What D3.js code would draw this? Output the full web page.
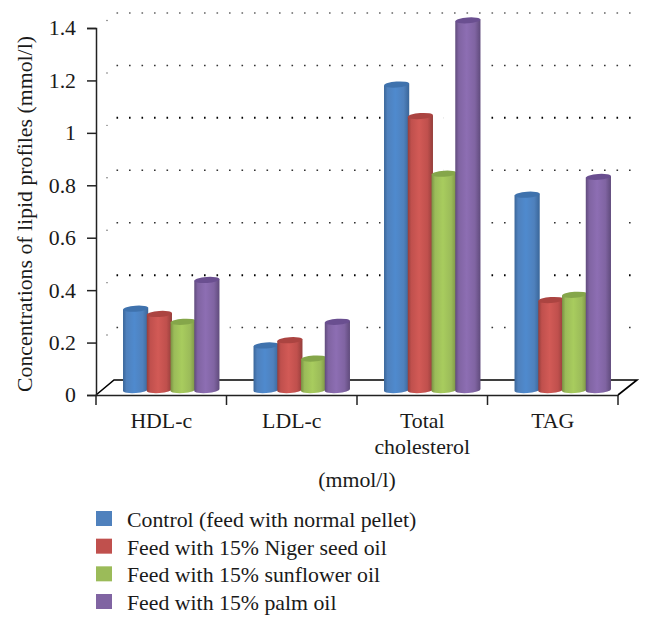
<!DOCTYPE html>
<html><head><meta charset="utf-8">
<script src="https://cdn.jsdelivr.net/npm/d3@7"></script>
<style>html,body{margin:0;padding:0;background:#fff}svg{display:block}text{font-family:"Liberation Serif",serif;fill:#1a1a1a}</style>
</head><body><div id="c"></div>
<script>
const categories = ["HDL-c","LDL-c","Total cholesterol","TAG"];
const seriesNames = ["Control (feed with normal pellet)","Feed with 15% Niger seed oil","Feed with 15% sunflower oil","Feed with 15% palm oil"];
const control = [0.31,0.17,1.165,0.745];
const niger = [0.29,0.19,1.045,0.343];
const sunflower = [0.26,0.12,0.825,0.363];
const palm = [0.42,0.26,1.41,0.813];
const yTicks = [0,0.2,0.4,0.6,0.8,1,1.2,1.4];
const seriesValues = [control,niger,sunflower,palm];
const base = ["#4f81bd","#c0504d","#9bbb59","#8064a2"];
const mid = ["#4f8ace","#d25a56","#a8cc5e","#8d6eb3"];
const edge = ["#3a6699","#943e3b","#7a9043","#604b7c"];
const topC = ["#3f72ad","#ab4441","#85a64a","#6a4f90"];
const fs = 21.8;

const W=652,H=629;
const svg=d3.select("#c").append("svg").attr("width",W).attr("height",H);
const y=d3.scaleLinear().domain([0,1.4]).range([395,28]);
const x=d3.scaleBand().domain(categories).range([96,618]);
const s=d3.scaleBand().domain(d3.range(4)).range([0,95]);
const depthX=26,depthY=-15,barRise=-5,rx=12.6,ry=3,tilt=-4;

const defs=svg.append("defs");
base.forEach((c,i)=>{
  const g=defs.append("linearGradient").attr("id","g"+i);
  [[0,edge[i]],[0.14,base[i]],[0.45,mid[i]],[0.78,base[i]],[1,edge[i]]].forEach(d=>g.append("stop").attr("offset",d[0]).attr("stop-color",d[1]));
});

// back wall dotted gridlines
const grid=svg.append("g");
yTicks.slice(1).forEach(t=>{
  const yy=y(t)+depthY;
  const dark=(t===1||t===0.4);
  const light=(t===1.4);
  grid.append("line").attr("x1",116).attr("x2",632).attr("y1",yy).attr("y2",yy)
    .attr("stroke",dark?"#000":(light?"#666":"#333")).attr("stroke-width",dark?2:1.6).attr("stroke-dasharray","1.6 10.9").attr("stroke-dashoffset",-0.5);
  grid.append("circle").attr("cx",107).attr("cy",y(t)-7.5).attr("r",0.7).attr("fill","#555");
});

// floor
svg.append("path").attr("fill","none").attr("stroke","#000").attr("stroke-width",1.6)
  .attr("d",`M${x.range()[0]},${y(0)}L${x.range()[0]+depthX-8},${y(0)+depthY}H637L${x.range()[1]},${y(0)}`);

// halos hide the dots next to the bars
const groupLeft=c=>x(c)+x.bandwidth()/2+10-47.5;
categories.forEach(c=>{
  seriesValues.forEach((v,i)=>{
    const val=v[categories.indexOf(c)];
    const l=groupLeft(c)+s(i);
    svg.append("rect").attr("x",l-4).attr("width",s.bandwidth()+15)
      .attr("y",y(val)+barRise-2).attr("height",y(0)-y(val)-10).attr("fill","#fff");
  });
});

// cylinders
const sin=Math.sin(tilt*Math.PI/180)*rx;
seriesValues.forEach((v,i)=>{
  const g=svg.append("g");
  categories.forEach((c,k)=>{
    const cx=groupLeft(c)+s(i)+s.bandwidth()/2;
    const topY=y(v[k])+barRise, botY=y(0)+barRise;
    const l=cx-rx,r=cx+rx;
    g.append("path").attr("fill",`url(#g${i})`)
      .attr("d",`M${l},${topY-sin}L${l},${botY-sin}A${rx},${ry} ${tilt} 0 0 ${r},${botY+sin}L${r},${topY+sin}Z`);
    g.append("ellipse").attr("cx",cx).attr("cy",topY).attr("rx",rx).attr("ry",ry)
      .attr("transform",`rotate(${tilt} ${cx} ${topY})`).attr("fill",topC[i]);
  });
});

// axes
const ax=svg.append("g").attr("transform","translate(96,0)").call(
  d3.axisLeft(y).tickValues(yTicks).tickFormat(d=>String(d)).tickSize(9).tickPadding(11));
ax.select(".domain").attr("stroke","#222").attr("stroke-width",1.5);
ax.selectAll(".tick line").attr("stroke","#222").attr("stroke-width",1.5);
ax.selectAll("text").attr("font-size",fs).attr("font-family","Liberation Serif");

const bx=svg.append("g").attr("transform",`translate(0,${y(0)})`).call(
  d3.axisBottom(x).tickValues([]).tickSizeOuter(0));
bx.select(".domain").attr("stroke","#222").attr("stroke-width",1.5);
[...categories.map(c=>x(c)),x.range()[1]].forEach(px=>
  svg.append("line").attr("x1",px).attr("x2",px).attr("y1",y(0)).attr("y2",y(0)+10).attr("stroke","#222").attr("stroke-width",1.5));

categories.forEach(c=>{
  const lines=c==="Total cholesterol"?["Total","cholesterol"]:[c];
  lines.forEach((t,j)=>svg.append("text").attr("x",x(c)+x.bandwidth()/2).attr("y",428+j*26)
    .attr("text-anchor","middle").attr("font-size",fs).text(t));
});
svg.append("text").attr("x",357).attr("y",487).attr("text-anchor","middle").attr("font-size",fs).text("(mmol/l)");
svg.append("text").attr("transform","translate(32,214) rotate(-90)").attr("text-anchor","middle").attr("font-size",fs).text("Concentrations of lipid profiles (mmol/l)");

// legend
const leg=d3.scaleLinear().domain([0,3]).range([511,594]);
seriesNames.forEach((n,i)=>{
  svg.append("rect").attr("x",96).attr("y",leg(i)).attr("width",16).attr("height",15).attr("fill",base[i]);
  svg.append("text").attr("x",127).attr("y",leg(i)+16).attr("font-size",fs).text(n);
});
</script></body></html>
